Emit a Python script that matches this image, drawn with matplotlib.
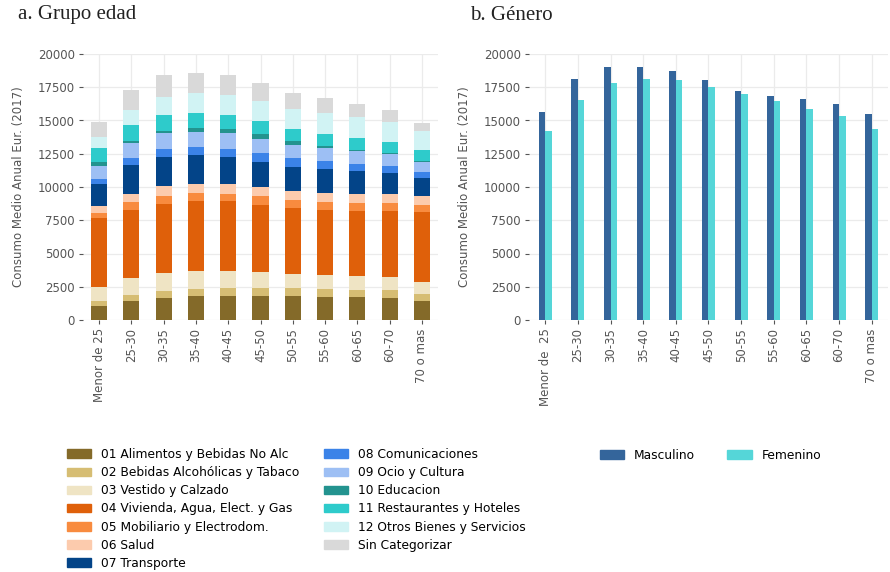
import numpy as np
import matplotlib.pyplot as plt
from matplotlib.patches import Patch

# age groups (x axis)
grupos = ["Menor de 25", "25-30", "30-35", "35-40", "40-45", "45-50",
          "50-55", "55-60", "60-65", "60-70", "70 o mas"]
grupos_gen = ["Menor de  25"] + grupos[1:]

categorias = ["01 Alimentos y Bebidas No Alc", "02 Bebidas Alcohólicas y Tabaco",
              "03 Vestido y Calzado", "04 Vivienda, Agua, Elect. y Gas",
              "05 Mobiliario y Electrodom.", "06 Salud", "07 Transporte",
              "08 Comunicaciones", "09 Ocio y Cultura", "10 Educacion",
              "11 Restaurantes y Hoteles", "12 Otros Bienes y Servicios",
              "Sin Categorizar"]

# consumption per category and age group (EUR, 2017)
alimentos = [1080, 1430, 1655, 1780, 1830, 1830, 1805, 1755, 1705, 1680, 1455]
bebidas = [350, 475, 550, 575, 600, 600, 575, 575, 575, 550, 475]
vestido = [1050, 1230, 1300, 1300, 1255, 1180, 1080, 1030, 1030, 980, 900]
vivienda = [5160, 5160, 5240, 5260, 5240, 5060, 4990, 4940, 4910, 5010, 5310]
mobiliario = [400, 550, 600, 625, 575, 625, 550, 575, 575, 575, 525]
salud = [500, 600, 700, 700, 700, 700, 700, 675, 700, 700, 675]
transporte = [1705, 2180, 2180, 2130, 2055, 1905, 1830, 1780, 1680, 1555, 1305]
comunicaciones = [375, 525, 625, 625, 600, 650, 625, 625, 575, 525, 475]
ocio = [980, 1155, 1180, 1130, 1180, 1080, 1005, 975, 925, 925, 750]
educacion = [275, 150, 200, 300, 325, 350, 300, 150, 125, 75, 100]
restaurantes = [1080, 1230, 1155, 1150, 1080, 1005, 925, 875, 850, 825, 825]
otros = [800, 1130, 1380, 1480, 1505, 1480, 1480, 1605, 1605, 1505, 1405]
sin_cat = [1130, 1505, 1630, 1530, 1455, 1355, 1205, 1105, 975, 875, 625]

masculino = [15640, 18120, 18990, 19040, 18700, 18070, 17190, 16840, 16590, 16240, 15490]
femenino = [14210, 16540, 17790, 18140, 18040, 17540, 16970, 16490, 15890, 15310, 14380]

colores = ["#846a29", "#d6bd73", "#efe4c4", "#df600a", "#f88b3f", "#fccbad",
           "#034488", "#3b83e8", "#9dbff4", "#23938f", "#2ecbcb", "#d1f3f4",
           "#d9d9d9"]
col_gen = ["#34659b", "#55d6d8"]

series = [alimentos, bebidas, vestido, vivienda, mobiliario, salud, transporte,
          comunicaciones, ocio, educacion, restaurantes, otros, sin_cat]

W, H = 890, 572
fig = plt.figure(figsize=(W / 100, H / 100), dpi=100)

def px_axes(x0, x1, y0, y1):
    return fig.add_axes([x0 / W, 1 - y1 / H, (x1 - x0) / W, (y1 - y0) / H])

ax1 = px_axes(83, 438, 54, 320)
ax2 = px_axes(529, 888, 54, 320)

def estilo(ax, etiquetas):
    ax.set_xlim(-0.5, len(etiquetas) - 0.5)
    ax.set_ylim(0, 20000)
    ax.set_yticks(np.arange(0, 20001, 2500))
    ax.set_xticks(np.arange(len(etiquetas)))
    ax.set_xticklabels(etiquetas, rotation=90)
    ax.grid(True, color="#ebebeb", lw=0.9)
    ax.set_axisbelow(True)
    for s in ax.spines.values():
        s.set_visible(False)
    ax.tick_params(colors="#555555", labelsize=8.5, length=3, width=0.8, pad=3)
    ax.set_ylabel("Consumo Medio Anual Eur. (2017)", color="#555555",
                  fontsize=8.5, labelpad=9)

x = np.arange(len(grupos))
base = np.zeros(len(grupos))
for vals, c, lab in zip(series, colores, categorias):
    ax1.bar(x, vals, 0.5, bottom=base, color=c, label=lab)
    base += np.array(vals)
estilo(ax1, grupos)

ax2.bar(x - 0.1, masculino, 0.2, color=col_gen[0], label="Masculino")
ax2.bar(x + 0.1, femenino, 0.2, color=col_gen[1], label="Femenino")
estilo(ax2, grupos_gen)

fig.text(18 / W, 1 - 15 / H, "a. Grupo edad", family="Liberation Serif",
         fontsize=15, color="#222222", va="center", ha="left")
fig.text(470 / W, 1 - 15 / H, "b. Género", family="Liberation Serif",
         fontsize=15, color="#222222", va="center", ha="left")

h1 = [Patch(color=c, label=l) for c, l in zip(colores, categorias)]
fig.legend(handles=h1, ncol=2, loc="upper left", bbox_to_anchor=(67 / W, 1 - 448 / H),
           frameon=False, fontsize=8.8, borderpad=0, borderaxespad=0,
           handlelength=2.0, handleheight=0.7, handletextpad=0.8,
           labelspacing=0.42, columnspacing=2.0)

h2 = [Patch(color=c, label=l) for c, l in zip(col_gen, ["Masculino", "Femenino"])]
fig.legend(handles=h2, ncol=2, loc="upper left", bbox_to_anchor=(600 / W, 1 - 449 / H),
           frameon=False, fontsize=8.8, borderpad=0, borderaxespad=0,
           handlelength=2.0, handleheight=0.7, handletextpad=0.8,
           columnspacing=2.6)

fig.savefig("out.png", dpi=100)
